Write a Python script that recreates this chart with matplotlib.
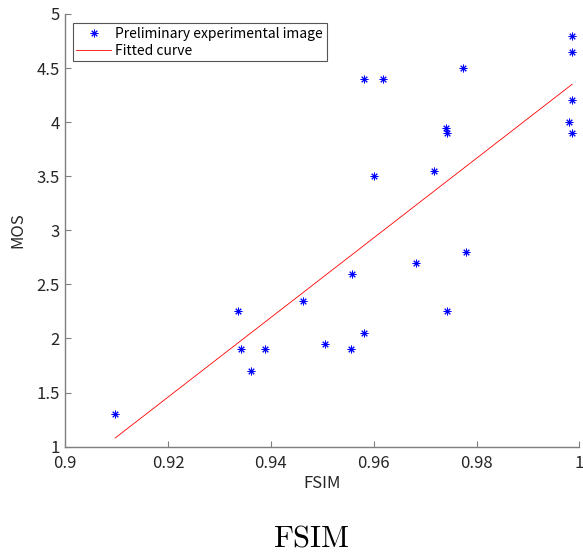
import numpy as np
import matplotlib
matplotlib.use('Agg')
from matplotlib import pyplot as plt

# valores
fsim = [0.9097, 0.9336, 0.9342, 0.9361, 0.9388, 0.9462, 0.9505, 0.9557, 0.9555,
        0.9581, 0.9581, 0.9619, 0.9600, 0.9683, 0.9718, 0.9740, 0.9742, 0.9742,
        0.9773, 0.9780, 0.9979, 0.9986, 0.9986, 0.9986, 0.9986]
mos = [1.3, 2.25, 1.9, 1.7, 1.9, 2.35, 1.95, 2.6, 1.9,
       2.05, 4.4, 4.4, 3.5, 2.7, 3.55, 3.95, 3.9, 2.25,
       4.5, 2.8, 4.0, 4.8, 4.65, 4.2, 3.9]
fit_x = [0.9097, 0.9986]
fit_y = [1.08, 4.35]

xticks = [0.9, 0.92, 0.94, 0.96, 0.98, 1]
xticklabels = ['0.9', '0.92', '0.94', '0.96', '0.98', '1']
yticks = [1, 1.5, 2, 2.5, 3, 3.5, 4, 4.5, 5]
yticklabels = ['1', '1.5', '2', '2.5', '3', '3.5', '4', '4.5', '5']

plt.rcParams['font.family'] = ['Noto Sans CJK JP', 'DejaVu Sans']
plt.rcParams['mathtext.fontset'] = 'cm'

fig = plt.figure(figsize=(5.83, 5.58), dpi=100)
ax = fig.add_axes([0.112, 0.1995, 0.8817, 0.7755])

# asterisco tipo matlab (+ y x)
ax.plot(fsim, mos, linestyle='none', marker=(8, 2, 0), color='blue', markersize=5.5,
        markeredgewidth=0.7, label='Preliminary experimental image')
ax.plot(fit_x, fit_y, color='red', linewidth=0.6, label='Fitted curve')

ax.set_xlim(0.9, 1)
ax.set_ylim(1, 5)
ax.set_xticks(xticks)
ax.set_xticklabels(xticklabels)
ax.set_yticks(yticks)
ax.set_yticklabels(yticklabels)

for s in ['top', 'right']:
    ax.spines[s].set_visible(False)
for s in ['left', 'bottom']:
    ax.spines[s].set_color('#7f7f7f')
    ax.spines[s].set_linewidth(1.0)
ax.tick_params(direction='in', length=4, width=0.8, color='#7f7f7f',
               labelsize=12, labelcolor='#262626')
ax.tick_params(axis='x', pad=6)
ax.tick_params(axis='y', pad=4)

ax.set_xlabel('FSIM', fontsize=12, color='#262626', labelpad=2)
ax.set_ylabel('MOS', fontsize=12, color='#262626', labelpad=7)

leg = ax.legend(loc='upper left', fontsize=10, fancybox=False, framealpha=1,
                edgecolor='#555555', borderpad=0.25, labelspacing=0.2,
                handlelength=2.5, handletextpad=0.3, borderaxespad=0.0,
                bbox_to_anchor=(0.015, 0.978))
leg.get_frame().set_linewidth(0.8)

fig.text(0.535, 0.035, r'$\mathrm{FSIM}$', fontsize=22, ha='center', va='center')

plt.savefig('out.png', dpi=100)
